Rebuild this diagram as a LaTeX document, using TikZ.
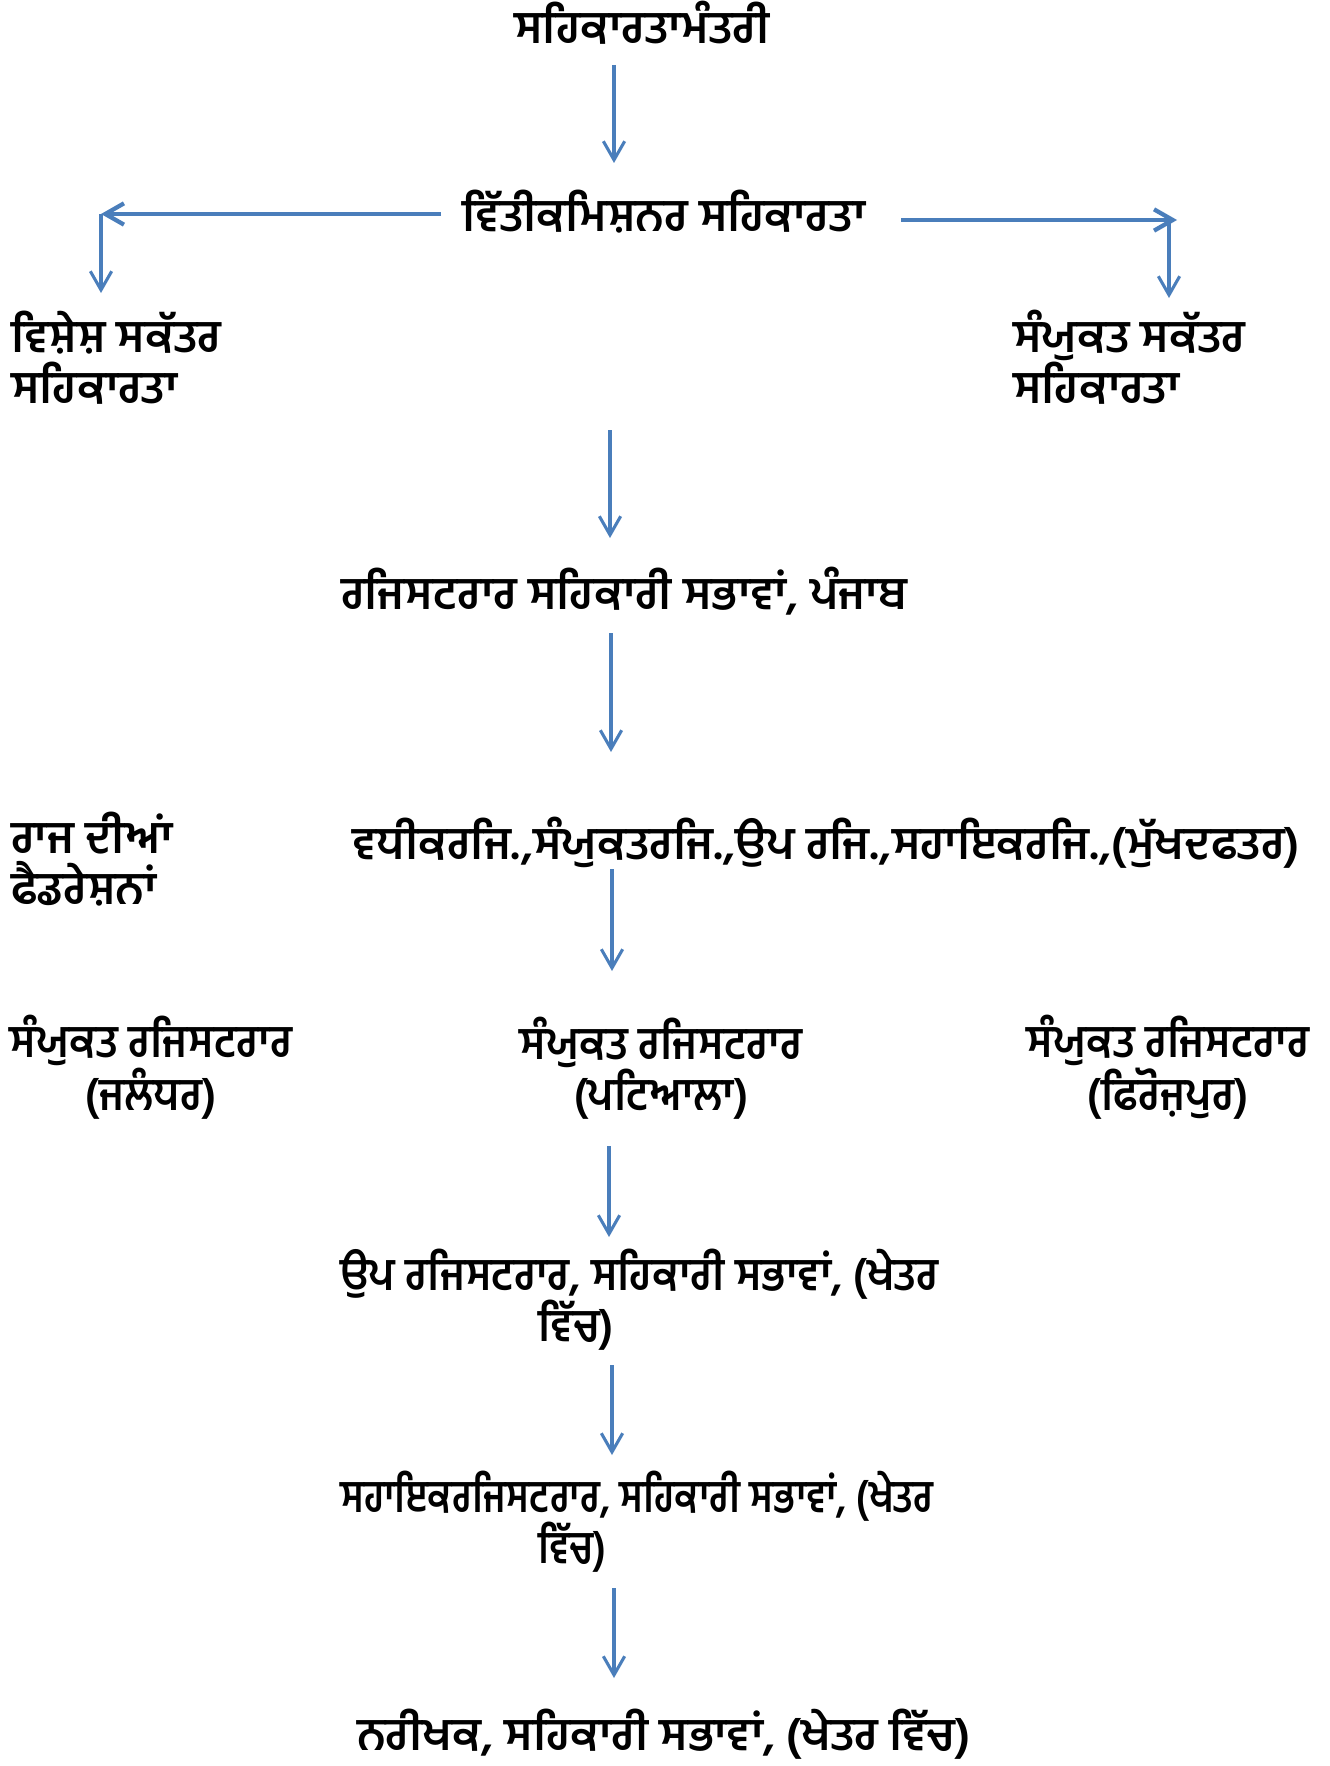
\documentclass[tikz,border=0pt]{standalone}
\usepackage{fontspec}
\newfontfamily\pa[Script=Gurmukhi]{Hind Jalandhar}
\newfontfamily\pawaski[Script=Gurmukhi,FakeStretch=0.93]{Hind Jalandhar}
\newfontfamily\paciasny[Script=Gurmukhi,FakeStretch=0.84]{Hind Jalandhar}
\usetikzlibrary{arrows.meta}
\definecolor{niebieski}{HTML}{4A7EBB}

\begin{document}
\begin{tikzpicture}[
    x=0.75pt, y=-0.75pt,
    etykieta/.style={font=\pa\bfseries\fontsize{34}{38}\selectfont, inner sep=0pt},
    waska/.style={font=\pawaski\bfseries\fontsize{34}{38}\selectfont, inner sep=0pt},
    ciasna/.style={font=\paciasny\bfseries\fontsize{34}{38}\selectfont, inner sep=0pt},
    strzalka/.style={draw=niebieski, line width=2.3pt, -{Straight Barb[length=14pt,width=16pt]}},
    bok/.style={strzalka, line width=3.2pt}
]
\useasboundingbox (0,0) rectangle (1330,1766);

% Etykiety kolejnych szczebli
\node[etykieta, anchor=base] (minister) at (642,44) {ਸਹਿਕਾਰਤਾਮੰਤਰੀ};
\node[etykieta, anchor=base] (komisarz) at (664,231) {ਵਿੱਤੀਕਮਿਸ਼ਨਰ ਸਹਿਕਾਰਤਾ};
\node[etykieta, anchor=base west, align=left] (sekretarzL) at (11,403) {ਵਿਸ਼ੇਸ਼ ਸਕੱਤਰ\\ਸਹਿਕਾਰਤਾ};
\node[etykieta, anchor=base west, align=left] (sekretarzP) at (1013,403) {ਸੰਯੁਕਤ ਸਕੱਤਰ\\ਸਹਿਕਾਰਤਾ};
\node[etykieta, anchor=base] (rejestrator) at (624,609) {ਰਜਿਸਟਰਾਰ ਸਹਿਕਾਰੀ ਸਭਾਵਾਂ, ਪੰਜਾਬ};
\node[etykieta, anchor=base west, align=left] (federacje) at (11,904) {ਰਾਜ ਦੀਆਂ\\ਫੈਡਰੇਸ਼ਨਾਂ};
\node[etykieta, anchor=base] (centrala) at (826,859) {ਵਧੀਕਰਜਿ.,ਸੰਯੁਕਤਰਜਿ.,ਉਪ ਰਜਿ.,ਸਹਾਇਕਰਜਿ.,(ਮੁੱਖਦਫਤਰ)};
\node[waska, anchor=base, align=center] (rejL) at (151,1110) {ਸੰਯੁਕਤ ਰਜਿਸਟਰਾਰ\\(ਜਲੰਧਰ)};
\node[waska, anchor=base, align=center] (rejS) at (661,1110) {ਸੰਯੁਕਤ ਰਜਿਸਟਰਾਰ\\(ਪਟਿਆਲਾ)};
\node[waska, anchor=base, align=center] (rejP) at (1168,1110) {ਸੰਯੁਕਤ ਰਜਿਸਟਰਾਰ\\(ਫਿਰੋਜ਼ਪੁਰ)};
\node[waska, anchor=base west] (zastepca) at (340,1290) {ਉਪ ਰਜਿਸਟਰਾਰ, ਸਹਿਕਾਰੀ ਸਭਾਵਾਂ, (ਖੇਤਰ};
\node[waska, anchor=base west] (zastepca2) at (538,1341) {ਵਿੱਚ)};
\node[ciasna, anchor=base west] (asystent) at (340,1512) {ਸਹਾਇਕਰਜਿਸਟਰਾਰ, ਸਹਿਕਾਰੀ ਸਭਾਵਾਂ, (ਖੇਤਰ};
\node[ciasna, anchor=base west] (asystent2) at (538,1563) {ਵਿੱਚ)};
\node[etykieta, anchor=base] (inspektor) at (664,1750) {ਨਰੀਖਕ, ਸਹਿਕਾਰੀ ਸਭਾਵਾਂ, (ਖੇਤਰ ਵਿੱਚ)};

% Punkty końcowe strzałek
\coordinate (s1a) at (614,65);
\coordinate (s1b) at (614,163);
\coordinate (kL) at (441,214);
\coordinate (rogL) at (101,214);
\coordinate (dolL) at (101,293);
\coordinate (kP) at (901,220);
\coordinate (rogP) at (1177,220);
\coordinate (gorP) at (1169,220);
\coordinate (dolP) at (1169,298);
\coordinate (s2a) at (610,430);
\coordinate (s2b) at (610,538);
\coordinate (s3a) at (611,633);
\coordinate (s3b) at (611,752);
\coordinate (s4a) at (612,869);
\coordinate (s4b) at (612,971);
\coordinate (s5a) at (609,1146);
\coordinate (s5b) at (609,1237);
\coordinate (s6a) at (612,1365);
\coordinate (s6b) at (612,1455);
\coordinate (s7a) at (614,1588);
\coordinate (s7b) at (614,1678);

% Rozgałęzienia na boki
\draw[bok] (kL) -- (rogL);
\draw[strzalka] (rogL) -- (dolL);
\draw[bok] (kP) -- (rogP);
\draw[strzalka] (gorP) -- (dolP);

% Strzałki w dół
\draw[strzalka] (s1a) -- (s1b);
\draw[strzalka] (s2a) -- (s2b);
\draw[strzalka] (s3a) -- (s3b);
\draw[strzalka] (s4a) -- (s4b);
\draw[strzalka] (s5a) -- (s5b);
\draw[strzalka] (s6a) -- (s6b);
\draw[strzalka] (s7a) -- (s7b);

\end{tikzpicture}
\end{document}
